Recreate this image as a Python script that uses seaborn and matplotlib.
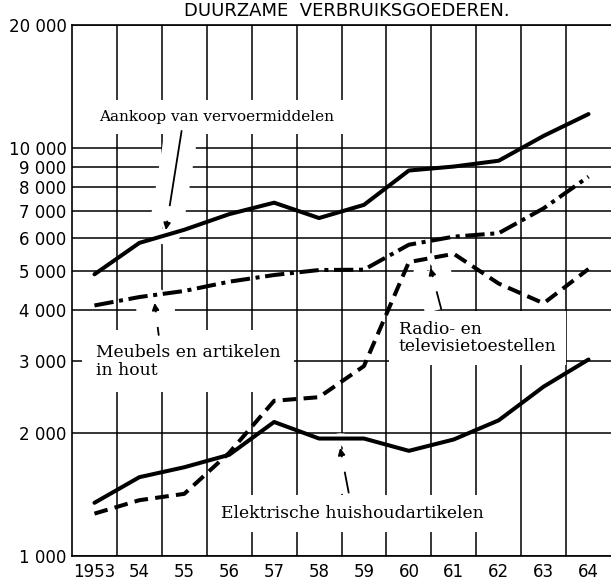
import matplotlib

matplotlib.use("Agg")

import matplotlib.patheffects as pe
import matplotlib.pyplot as plt
import pandas as pd
import seaborn as sns
from matplotlib.ticker import FixedLocator, NullLocator

# values (log scale, 1953-1964)
YEARS = list(range(1953, 1965))
YEAR_LABELS = ["1953", "54", "55", "56", "57", "58", "59", "60", "61", "62", "63", "64"]

VERVOERMIDDELEN = [4900, 5850, 6300, 6880, 7340, 6730, 7250, 8800, 9000, 9300, 10700, 12100]
MEUBELS = [4110, 4310, 4460, 4700, 4880, 5020, 5030, 5790, 6060, 6180, 7110, 8500]
RADIO_TV = [1270, 1370, 1420, 1790, 2400, 2450, 2920, 5250, 5500, 4650, 4160, 5050]
ELEKTRISCH = [1350, 1560, 1650, 1770, 2130, 1940, 1940, 1810, 1930, 2150, 2600, 3030]

Y_TICKS = [1000, 2000, 3000, 4000, 5000, 6000, 7000, 8000, 9000, 10000, 20000]
Y_TICK_LABELS = ["1 000", "2 000", "3 000", "4 000", "5 000", "6 000",
                 "7 000", "8 000", "9 000", "10 000", "20 000"]

TITLE = "DUURZAME  VERBRUIKSGOEDEREN."

SERIES = {
    "Aankoop van vervoermiddelen": (VERVOERMIDDELEN, "-"),
    "Meubels en artikelen in hout": (MEUBELS, (0, (4.8, 1.4, 1.0, 1.4))),
    "Radio- en televisietoestellen": (RADIO_TV, (0, (3.4, 1.8))),
    "Elektrische huishoudartikelen": (ELEKTRISCH, "-"),
}

sns.set_style("white")
plt.rcParams["font.family"] = ["DejaVu Sans"]

fig = plt.figure(figsize=(6.11, 5.84), dpi=100)
ax = fig.add_axes([72 / 611, 28 / 584, 539 / 611, 531 / 584])

for name, (values, style) in SERIES.items():
    df = pd.DataFrame({"year": YEARS, "value": values})
    sns.lineplot(data=df, x="year", y="value", ax=ax, color="black",
                 linewidth=2.9, linestyle=style, zorder=5)

ax.set_yscale("log")
ax.set_ylim(1000, 20000)
ax.set_xlim(1952.5, 1964.5)

ax.yaxis.set_major_locator(FixedLocator(Y_TICKS))
ax.yaxis.set_minor_locator(NullLocator())
ax.set_yticklabels(Y_TICK_LABELS)
ax.set_xticks(YEARS)
ax.set_xticklabels(YEAR_LABELS)
ax.xaxis.set_minor_locator(FixedLocator([y + 0.5 for y in YEARS[:-1]]))
ax.tick_params(axis="both", which="both", length=0, labelsize=12, colors="black")
ax.tick_params(axis="y", pad=4)
ax.tick_params(axis="x", pad=5)

ax.set_axisbelow(True)
ax.grid(False)
ax.yaxis.grid(True, which="major", color="black", linewidth=1.1)
ax.xaxis.grid(True, which="minor", color="black", linewidth=1.1)
for side in ["left", "bottom", "top"]:
    ax.spines[side].set_color("black")
    ax.spines[side].set_linewidth(1.2)
ax.spines["right"].set_color("#999999")
ax.spines["right"].set_linewidth(0.6)
ax.set_xlabel("")
ax.set_ylabel("")

fig.text(347 / 611, 1 - 16 / 584, TITLE, ha="center", va="baseline",
         fontsize=13, color="black")

halo = [pe.Stroke(linewidth=24, foreground="white", capstyle="butt"), pe.Normal()]
arrow = dict(arrowstyle="-|>", color="black", lw=1.3, mutation_scale=10,
             shrinkA=0, shrinkB=0)

# label text, font size, box padding, text position, arrow start, arrow tip (data units)
labels = [
    ("Aankoop van vervoermiddelen", 11, 7, (1953.1, 11900), (1954.94, 11000), (1954.59, 6290)),
    ("Meubels en artikelen\nin hout", 12.3, 10, (1953.03, 3000), (1954.43, 3480), (1954.34, 4170)),
    ("Radio- en\ntelevisietoestellen", 12.3, 7, (1959.77, 3420), (1960.72, 4030), (1960.48, 5080)),
    ("Elektrische huishoudartikelen", 12.3, 7, (1955.81, 1270), (1958.66, 1430), (1958.47, 1840)),
]
for text, size, pad, pos, start, tip in labels:
    ax.text(pos[0], pos[1], text, ha="left", va="center", linespacing=1.05,
            bbox=dict(facecolor="white", edgecolor="none", pad=pad), zorder=3,
            family="DejaVu Serif", fontsize=size, color="black")
    ann = ax.annotate("", xy=tip, xytext=start, arrowprops=arrow, zorder=4)
    ann.arrow_patch.set_path_effects(halo)

fig.savefig("out.png", dpi=100)
plt.close(fig)
